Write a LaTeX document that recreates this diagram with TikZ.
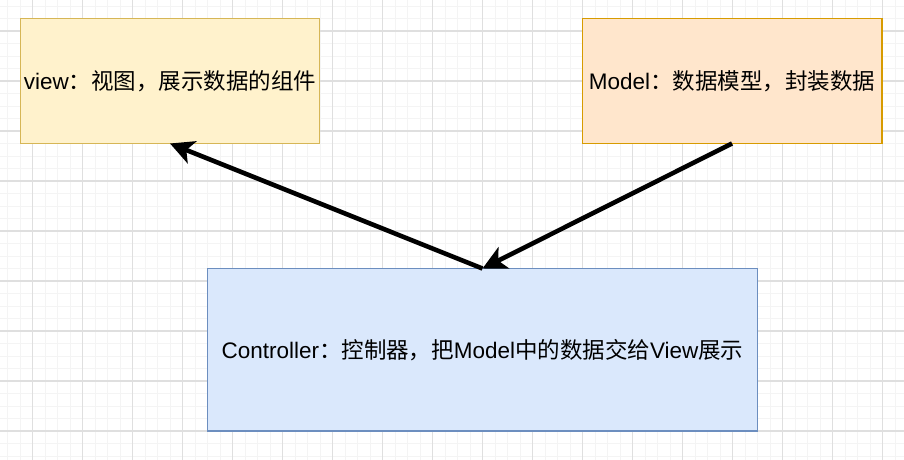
\documentclass[tikz,border=0pt]{standalone}
\usepackage{fontspec}
\setmainfont{Liberation Sans}
\newfontfamily\cjk{Noto Sans CJK SC}
\usetikzlibrary{arrows.meta}

\definecolor{viewfill}{HTML}{FFF2CC}
\definecolor{viewline}{HTML}{D6B656}
\definecolor{modelfill}{HTML}{FFE6CC}
\definecolor{modelline}{HTML}{D79B00}
\definecolor{ctrlfill}{HTML}{DAE8FC}
\definecolor{ctrlline}{HTML}{6C8EBF}

\begin{document}
\begin{tikzpicture}[x=0.02cm, y=-0.02cm,
    box/.style={draw, line width=0.6pt, inner sep=0pt, outer sep=0pt,
      font=\fontsize{12.8}{15}\selectfont},
    conn/.style={-{Stealth[length=13.5pt, width=13.5pt, inset=3.5pt]}, line width=2.6pt},
    minorline/.style={gray!9, line width=0.5pt},
    majorline/.style={gray!25, line width=0.6pt}]
            \useasboundingbox (0,0) rectangle (904,460);
            % Grid
            \foreach \x in {7.5,20,...,904} \draw[minorline] (\x,0) -- (\x,460);
            \foreach \y in {6,18.5,...,460} \draw[minorline] (0,\y) -- (904,\y);
            \foreach \x in {32.5,82.5,...,904} \draw[majorline] (\x,0) -- (\x,460);
            \foreach \y in {31,81,...,460} \draw[majorline] (0,\y) -- (904,\y);

            % View
            \node[box, fill=viewfill, draw=viewline, minimum width=6cm, minimum height=2.5cm]
                (view) at (170,81) {view{\cjk ：视图，展示数据的组件}};

            % Model
            \node[box, fill=modelfill, draw=modelline, minimum width=6cm, minimum height=2.5cm]
                (model) at (732,81) {Model{\cjk ：数据模型，封装数据}};

            % Controller
            \node[box, fill=ctrlfill, draw=ctrlline, minimum width=11cm, minimum height=3.25cm]
                (ctrl) at (482.5,349.75) {Controller{\cjk ：控制器，把}Model{\cjk 中的数据交给}View{\cjk 展示}};

            % Arrows
            \draw[conn] (ctrl.north) -- (view.south);
            \draw[conn] (model.south) -- (ctrl.north);
        \end{tikzpicture}
\end{document}
